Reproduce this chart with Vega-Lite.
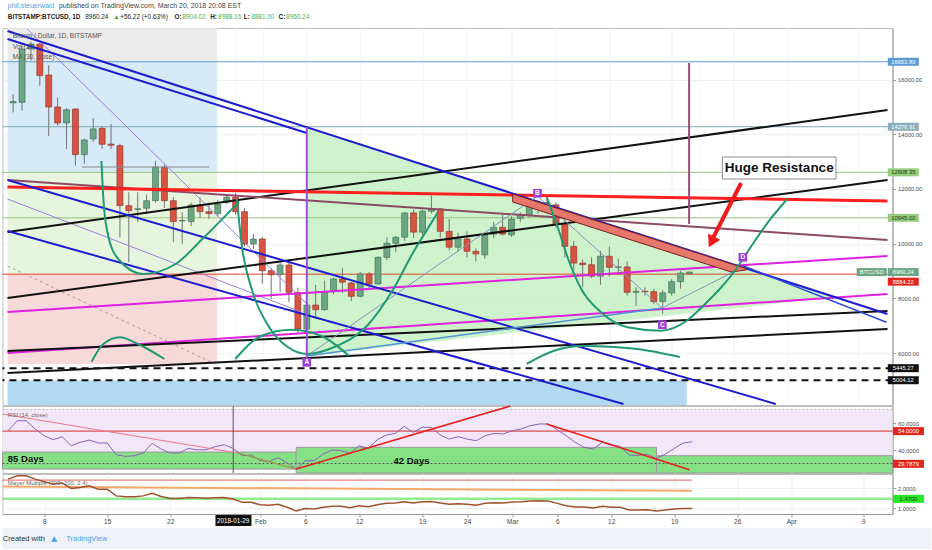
{
  "$schema": "https://vega.github.io/schema/vega-lite/v6.json",
  "padding": {"left": -2.5, "top": -2, "right": 0, "bottom": 0},
  "background": "white",
  "spacing": 1,
  "bounds": "flush",
  "resolve": {"scale": {"x": "independent", "y": "independent", "color": "independent"}},
  "datasets": {
    "daily": [
      {"d": "2018-01-04", "o": 15150, "h": 15475, "l": 14800, "c": 15200, "rsi": 54.3, "mm": 2.47},
      {"d": "2018-01-05", "o": 15170, "h": 17250, "l": 14860, "c": 17120, "rsi": 61.7, "mm": 2.64},
      {"d": "2018-01-06", "o": 17120, "h": 17400, "l": 16700, "c": 17300, "rsi": 61.7, "mm": 2.64},
      {"d": "2018-01-07", "o": 17300, "h": 17350, "l": 15780, "c": 16150, "rsi": 55.6, "mm": 2.47},
      {"d": "2018-01-08", "o": 16170, "h": 16530, "l": 13940, "c": 15000, "rsi": 50.6, "mm": 2.34},
      {"d": "2018-01-09", "o": 15000, "h": 15350, "l": 14317, "c": 14414, "rsi": 47.6, "mm": 2.22},
      {"d": "2018-01-10", "o": 14414, "h": 14950, "l": 13460, "c": 14900, "rsi": 49.9, "mm": 2.27},
      {"d": "2018-01-11", "o": 14926, "h": 14950, "l": 12854, "c": 13255, "rsi": 43.2, "mm": 2.0},
      {"d": "2018-01-12", "o": 13255, "h": 13850, "l": 12920, "c": 13792, "rsi": 45.7, "mm": 2.05},
      {"d": "2018-01-13", "o": 13830, "h": 14586, "l": 13730, "c": 14200, "rsi": 47.4, "mm": 2.13},
      {"d": "2018-01-14", "o": 14220, "h": 14300, "l": 13460, "c": 13635, "rsi": 45.2, "mm": 1.96},
      {"d": "2018-01-15", "o": 13640, "h": 14377, "l": 13460, "c": 13600, "rsi": 45.2, "mm": 1.96},
      {"d": "2018-01-16", "o": 13584, "h": 13650, "l": 10230, "c": 11390, "rsi": 36.5, "mm": 1.62},
      {"d": "2018-01-17", "o": 11390, "h": 11880, "l": 9320, "c": 11206, "rsi": 35.3, "mm": 1.57},
      {"d": "2018-01-18", "o": 11250, "h": 11880, "l": 10790, "c": 11280, "rsi": 35.8, "mm": 1.57},
      {"d": "2018-01-19", "o": 11294, "h": 11800, "l": 11080, "c": 11573, "rsi": 37.8, "mm": 1.62},
      {"d": "2018-01-20", "o": 11573, "h": 13036, "l": 11500, "c": 12794, "rsi": 45.0, "mm": 1.75},
      {"d": "2018-01-21", "o": 12794, "h": 12900, "l": 11300, "c": 11573, "rsi": 40.7, "mm": 1.59},
      {"d": "2018-01-22", "o": 11573, "h": 11700, "l": 10050, "c": 10805, "rsi": 37.8, "mm": 1.49},
      {"d": "2018-01-23", "o": 10830, "h": 11150, "l": 9990, "c": 10850, "rsi": 37.8, "mm": 1.49},
      {"d": "2018-01-24", "o": 10805, "h": 11500, "l": 10650, "c": 11415, "rsi": 41.2, "mm": 1.54},
      {"d": "2018-01-25", "o": 11415, "h": 11700, "l": 10950, "c": 11170, "rsi": 40.2, "mm": 1.52},
      {"d": "2018-01-26", "o": 11170, "h": 11500, "l": 10900, "c": 11100, "rsi": 40.2, "mm": 1.5},
      {"d": "2018-01-27", "o": 11100, "h": 11600, "l": 11000, "c": 11450, "rsi": 42.5, "mm": 1.52},
      {"d": "2018-01-28", "o": 11510, "h": 11800, "l": 11450, "c": 11700, "rsi": 43.9, "mm": 1.54},
      {"d": "2018-01-29", "o": 11700, "h": 11860, "l": 11050, "c": 11170, "rsi": 41.2, "mm": 1.46},
      {"d": "2018-01-30", "o": 11170, "h": 11300, "l": 9900, "c": 9988, "rsi": 35.8, "mm": 1.29},
      {"d": "2018-01-31", "o": 9988, "h": 10350, "l": 9805, "c": 10170, "rsi": 36.3, "mm": 1.29},
      {"d": "2018-02-01", "o": 10170, "h": 10250, "l": 8540, "c": 9010, "rsi": 32.1, "mm": 1.17},
      {"d": "2018-02-02", "o": 9010, "h": 9100, "l": 7980, "c": 8865, "rsi": 31.6, "mm": 1.15},
      {"d": "2018-02-03", "o": 8865, "h": 9380, "l": 8220, "c": 9220, "rsi": 34.3, "mm": 1.19},
      {"d": "2018-02-04", "o": 9220, "h": 9400, "l": 7855, "c": 8220, "rsi": 30.4, "mm": 1.04},
      {"d": "2018-02-05", "o": 8220, "h": 8390, "l": 6695, "c": 6875, "rsi": 25.9, "mm": 0.86},
      {"d": "2018-02-06", "o": 6875, "h": 7850, "l": 5970, "c": 7755, "rsi": 32.1, "mm": 0.98},
      {"d": "2018-02-07", "o": 7755, "h": 8490, "l": 7240, "c": 7585, "rsi": 32.1, "mm": 0.95},
      {"d": "2018-02-08", "o": 7585, "h": 8645, "l": 7550, "c": 8245, "rsi": 37.0, "mm": 1.04},
      {"d": "2018-02-09", "o": 8280, "h": 8760, "l": 8150, "c": 8710, "rsi": 40.0, "mm": 1.09},
      {"d": "2018-02-10", "o": 8710, "h": 9100, "l": 8200, "c": 8590, "rsi": 39.5, "mm": 1.09},
      {"d": "2018-02-11", "o": 8560, "h": 8600, "l": 7900, "c": 8075, "rsi": 37.8, "mm": 1.02},
      {"d": "2018-02-12", "o": 8075, "h": 8960, "l": 8030, "c": 8890, "rsi": 43.2, "mm": 1.12},
      {"d": "2018-02-13", "o": 8890, "h": 8960, "l": 8360, "c": 8525, "rsi": 41.2, "mm": 1.07},
      {"d": "2018-02-14", "o": 8525, "h": 9530, "l": 8500, "c": 9500, "rsi": 47.6, "mm": 1.17},
      {"d": "2018-02-15", "o": 9500, "h": 10233, "l": 9400, "c": 10015, "rsi": 51.1, "mm": 1.24},
      {"d": "2018-02-16", "o": 10015, "h": 10280, "l": 9700, "c": 10235, "rsi": 52.3, "mm": 1.26},
      {"d": "2018-02-17", "o": 10235, "h": 11150, "l": 10100, "c": 11125, "rsi": 57.5, "mm": 1.32},
      {"d": "2018-02-18", "o": 11125, "h": 11250, "l": 10200, "c": 10420, "rsi": 53.1, "mm": 1.26},
      {"d": "2018-02-19", "o": 10420, "h": 11250, "l": 10300, "c": 11185, "rsi": 56.8, "mm": 1.32},
      {"d": "2018-02-20", "o": 11185, "h": 11760, "l": 11100, "c": 11270, "rsi": 56.8, "mm": 1.34},
      {"d": "2018-02-21", "o": 11270, "h": 11300, "l": 10230, "c": 10450, "rsi": 51.1, "mm": 1.26},
      {"d": "2018-02-22", "o": 10450, "h": 10900, "l": 9760, "c": 9870, "rsi": 48.1, "mm": 1.19},
      {"d": "2018-02-23", "o": 9870, "h": 10400, "l": 9700, "c": 10170, "rsi": 49.9, "mm": 1.22},
      {"d": "2018-02-24", "o": 10170, "h": 10450, "l": 9500, "c": 9720, "rsi": 48.1, "mm": 1.19},
      {"d": "2018-02-25", "o": 9720, "h": 9830, "l": 9350, "c": 9625, "rsi": 46.9, "mm": 1.15},
      {"d": "2018-02-26", "o": 9590, "h": 10420, "l": 9450, "c": 10320, "rsi": 50.6, "mm": 1.24},
      {"d": "2018-02-27", "o": 10350, "h": 10800, "l": 10200, "c": 10600, "rsi": 52.3, "mm": 1.27},
      {"d": "2018-02-28", "o": 10600, "h": 11050, "l": 10300, "c": 10350, "rsi": 51.9, "mm": 1.26},
      {"d": "2018-03-01", "o": 10320, "h": 11000, "l": 10250, "c": 10900, "rsi": 54.3, "mm": 1.31},
      {"d": "2018-03-02", "o": 10925, "h": 11150, "l": 10800, "c": 11050, "rsi": 55.6, "mm": 1.32},
      {"d": "2018-03-03", "o": 11050, "h": 11550, "l": 10950, "c": 11450, "rsi": 58.0, "mm": 1.36},
      {"d": "2018-03-04", "o": 11450, "h": 11550, "l": 11100, "c": 11500, "rsi": 59.3, "mm": 1.37},
      {"d": "2018-03-05", "o": 11500, "h": 11700, "l": 11300, "c": 11420, "rsi": 59.3, "mm": 1.36},
      {"d": "2018-03-06", "o": 11420, "h": 11500, "l": 10600, "c": 10720, "rsi": 55.0, "mm": 1.24},
      {"d": "2018-03-07", "o": 10720, "h": 10900, "l": 9500, "c": 9900, "rsi": 50.6, "mm": 1.12},
      {"d": "2018-03-08", "o": 9900, "h": 10100, "l": 9050, "c": 9290, "rsi": 45.7, "mm": 1.05},
      {"d": "2018-03-09", "o": 9290, "h": 9420, "l": 8400, "c": 9230, "rsi": 42.0, "mm": 1.05},
      {"d": "2018-03-10", "o": 9230, "h": 9500, "l": 8750, "c": 8810, "rsi": 40.7, "mm": 1.0},
      {"d": "2018-03-11", "o": 8810, "h": 9740, "l": 8490, "c": 9540, "rsi": 45.7, "mm": 1.09},
      {"d": "2018-03-12", "o": 9540, "h": 9900, "l": 8800, "c": 9135, "rsi": 43.7, "mm": 1.04},
      {"d": "2018-03-13", "o": 9135, "h": 9450, "l": 8850, "c": 9150, "rsi": 42.7, "mm": 1.04},
      {"d": "2018-03-14", "o": 9150, "h": 9350, "l": 8100, "c": 8220, "rsi": 36.3, "mm": 0.9},
      {"d": "2018-03-15", "o": 8220, "h": 8400, "l": 7730, "c": 8260, "rsi": 35.9, "mm": 0.9},
      {"d": "2018-03-16", "o": 8260, "h": 8400, "l": 8100, "c": 8240, "rsi": 37.0, "mm": 0.92},
      {"d": "2018-03-17", "o": 8245, "h": 8350, "l": 7800, "c": 7880, "rsi": 33.8, "mm": 0.85},
      {"d": "2018-03-18", "o": 7880, "h": 8300, "l": 7430, "c": 8200, "rsi": 37.0, "mm": 0.9},
      {"d": "2018-03-19", "o": 8200, "h": 8700, "l": 8100, "c": 8610, "rsi": 41.2, "mm": 0.95},
      {"d": "2018-03-20", "o": 8610, "h": 9010, "l": 8350, "c": 8927, "rsi": 45.2, "mm": 0.98},
      {"d": "2018-03-21", "o": 8904, "h": 8988, "l": 8881, "c": 8960, "rsi": 46.1, "mm": 0.98}
    ],
    "zones": [
      {"top": 17889, "bot": 16654, "zone": "grey"},
      {"top": 16654, "bot": 12608, "zone": "blue"},
      {"top": 12608, "bot": 8884, "zone": "green"},
      {"top": 8884, "bot": 5598, "zone": "pink"}
    ],
    "tags": [
      {"p": 16653.89, "t": "16653.89", "kind": "blue"},
      {"p": 14276.91, "t": "14276.91", "kind": "teal"},
      {"p": 12608.35, "t": "12608.35", "kind": "green"},
      {"p": 10945.00, "t": "10945.00", "kind": "green"},
      {"p": 8960.24, "t": "8960.24", "kind": "last"},
      {"p": 8884.22, "t": "8884.22", "kind": "red"},
      {"p": 5445.27, "t": "5445.27", "kind": "black"},
      {"p": 5004.12, "t": "5004.12", "kind": "black"}
    ],
    "lines": [
      {"id": "blue1", "d": "2018-01-03T08:48:00Z", "p": 17779}, {"id": "blue1", "d": "2018-04-12T06:09:00Z", "p": 7427},
      {"id": "blue2", "d": "2018-01-03T08:48:00Z", "p": 17487}, {"id": "blue2", "d": "2018-02-06T00:00:00Z", "p": 14048},
      {"id": "blueC", "d": "2018-01-03T08:48:00Z", "p": 12329}, {"id": "blueC", "d": "2018-03-30T16:48:00Z", "p": 4135},
      {"id": "blueD", "d": "2018-01-03T08:48:00Z", "p": 10463}, {"id": "blueD", "d": "2018-03-13T14:10:00Z", "p": 4135},
      {"id": "blueE", "d": "2018-03-27T00:00:00Z", "p": 9194}, {"id": "blueE", "d": "2018-04-12T03:22:00Z", "p": 7123},
      {"id": "black1", "d": "2018-01-03T08:48:00Z", "p": 10427}, {"id": "black1", "d": "2018-04-12T06:09:00Z", "p": 14889},
      {"id": "black2", "d": "2018-01-03T08:48:00Z", "p": 8012}, {"id": "black2", "d": "2018-04-12T06:09:00Z", "p": 12329},
      {"id": "black3", "d": "2018-01-03T08:48:00Z", "p": 6073}, {"id": "black3", "d": "2018-04-12T06:09:00Z", "p": 7537},
      {"id": "black4", "d": "2018-01-03T08:48:00Z", "p": 5269}, {"id": "black4", "d": "2018-04-12T06:09:00Z", "p": 6878},
      {"id": "red1", "d": "2018-01-03T08:48:00Z", "p": 12073}, {"id": "red1", "d": "2018-04-12T06:09:00Z", "p": 11561},
      {"id": "maroon", "d": "2018-01-03T08:48:00Z", "p": 12329}, {"id": "maroon", "d": "2018-04-12T06:09:00Z", "p": 10134},
      {"id": "mag1", "d": "2018-01-03T08:48:00Z", "p": 7500}, {"id": "mag1", "d": "2018-04-12T06:09:00Z", "p": 9549},
      {"id": "mag2", "d": "2018-01-03T08:48:00Z", "p": 6001}, {"id": "mag2", "d": "2018-04-12T06:09:00Z", "p": 8159},
      {"id": "purp1", "d": "2018-01-05T14:10:00Z", "p": 17852}, {"id": "purp1", "d": "2018-02-06T11:31:00Z", "p": 7646},
      {"id": "purp2", "d": "2018-01-03T08:48:00Z", "p": 11634}, {"id": "purp2", "d": "2018-02-05T08:53:00Z", "p": 7500},
      {"id": "gdash", "d": "2018-01-03T08:48:00Z", "p": 9183}, {"id": "gdash", "d": "2018-01-26T16:48:00Z", "p": 5598},
      {"id": "gshort", "d": "2018-01-11T16:48:00Z", "p": 12804}, {"id": "gshort", "d": "2018-01-26T00:43:00Z", "p": 12804},
      {"id": "abcd", "d": "2018-02-06T00:00:00Z", "p": 5891}, {"id": "abcd", "d": "2018-03-03T22:05:00Z", "p": 11743},
      {"id": "abcd", "d": "2018-03-17T22:05:00Z", "p": 7646}, {"id": "abcd", "d": "2018-03-26T19:26:00Z", "p": 9110},
      {"id": "ac", "d": "2018-02-06T00:00:00Z", "p": 5891}, {"id": "ac", "d": "2018-03-17T22:05:00Z", "p": 7646},
      {"id": "vA", "d": "2018-02-06T00:00:00Z", "p": 14268}, {"id": "vA", "d": "2018-02-06T00:00:00Z", "p": 5781},
      {"id": "vM", "d": "2018-03-20T23:02:00Z", "p": 16609}, {"id": "vM", "d": "2018-03-20T23:02:00Z", "p": 10720},
      {"id": "arrow", "d": "2018-03-23T16:48:00Z", "p": 10244}, {"id": "arrow", "d": "2018-03-26T19:26:00Z", "p": 12219}
    ],
    "band": [
      {"d": "2018-03-01T03:22:00Z", "top": 11817, "bot": 11524},
      {"d": "2018-03-25T16:48:00Z", "top": 9262, "bot": 8963},
      {"d": "2018-03-27T08:53:00Z", "top": 9091, "bot": 9037}
    ],
    "arcs": [
      {"id": "a1", "d": "2018-01-13T22:05:00Z", "p": 13024}, {"id": "a1", "d": "2018-01-14T03:22:00Z", "p": 11634},
      {"id": "a1", "d": "2018-01-14T14:10:00Z", "p": 10427}, {"id": "a1", "d": "2018-01-15T19:26:00Z", "p": 9439},
      {"id": "a1", "d": "2018-01-18T14:10:00Z", "p": 8890}, {"id": "a1", "d": "2018-01-22T06:14:00Z", "p": 9256},
      {"id": "a1", "d": "2018-01-25T06:14:00Z", "p": 10171}, {"id": "a1", "d": "2018-01-29T08:53:00Z", "p": 11524},
      {"id": "a2", "d": "2018-01-29T03:22:00Z", "p": 11634}, {"id": "a2", "d": "2018-01-29T16:48:00Z", "p": 9925},
      {"id": "a2", "d": "2018-01-30T19:26:00Z", "p": 8341}, {"id": "a2", "d": "2018-02-01T16:05:00Z", "p": 6999},
      {"id": "a2", "d": "2018-02-03T21:22:00Z", "p": 6209}, {"id": "a2", "d": "2018-02-06T00:43:00Z", "p": 5964},
      {"id": "a2", "d": "2018-02-09T00:43:00Z", "p": 6209}, {"id": "a2", "d": "2018-02-12T18:43:00Z", "p": 6999},
      {"id": "a2", "d": "2018-02-15T17:31:00Z", "p": 8341}, {"id": "a2", "d": "2018-02-17T23:02:00Z", "p": 9684},
      {"id": "a2", "d": "2018-02-19T10:34:00Z", "p": 10474}, {"id": "a2", "d": "2018-02-20T17:31:00Z", "p": 11147},
      {"id": "a3", "d": "2018-03-04T23:02:00Z", "p": 11696}, {"id": "a3", "d": "2018-03-06T06:14:00Z", "p": 10537},
      {"id": "a3", "d": "2018-03-07T08:53:00Z", "p": 9439}, {"id": "a3", "d": "2018-03-08T20:10:00Z", "p": 8341},
      {"id": "a3", "d": "2018-03-11T01:41:00Z", "p": 7489}, {"id": "a3", "d": "2018-03-14T00:43:00Z", "p": 6940},
      {"id": "a3", "d": "2018-03-17T17:31:00Z", "p": 6816}, {"id": "a3", "d": "2018-03-20T16:48:00Z", "p": 7182},
      {"id": "a3", "d": "2018-03-22T13:26:00Z", "p": 7731}, {"id": "a3", "d": "2018-03-24T09:36:00Z", "p": 8341},
      {"id": "a3", "d": "2018-03-26T06:14:00Z", "p": 9073}, {"id": "a3", "d": "2018-03-28T02:38:00Z", "p": 9988},
      {"id": "a3", "d": "2018-03-29T23:02:00Z", "p": 10840}, {"id": "a3", "d": "2018-04-01T00:00:00Z", "p": 11634},
      {"id": "a4", "d": "2018-01-12T19:26:00Z", "p": 5682}, {"id": "a4", "d": "2018-01-14T03:22:00Z", "p": 6330},
      {"id": "a4", "d": "2018-01-16T00:00:00Z", "p": 6575}, {"id": "a4", "d": "2018-01-18T00:43:00Z", "p": 6330},
      {"id": "a4", "d": "2018-01-21T00:00:00Z", "p": 5781},
      {"id": "a5", "d": "2018-01-28T23:02:00Z", "p": 5781}, {"id": "a5", "d": "2018-01-31T22:05:00Z", "p": 6633},
      {"id": "a5", "d": "2018-02-04T06:14:00Z", "p": 6853}, {"id": "a5", "d": "2018-02-07T14:10:00Z", "p": 6633},
      {"id": "a5", "d": "2018-02-10T17:31:00Z", "p": 5902},
      {"id": "a6", "d": "2018-03-02T16:48:00Z", "p": 5598}, {"id": "a6", "d": "2018-03-05T16:48:00Z", "p": 6073},
      {"id": "a6", "d": "2018-03-09T00:43:00Z", "p": 6256}, {"id": "a6", "d": "2018-03-12T08:53:00Z", "p": 6220},
      {"id": "a6", "d": "2018-03-15T03:22:00Z", "p": 6147}, {"id": "a6", "d": "2018-03-19T22:05:00Z", "p": 5854}
    ],
    "pts": [
      {"lab": "A", "d": "2018-02-06T00:00:00Z", "p": 5660},
      {"lab": "B", "d": "2018-03-03T22:05:00Z", "p": 11842},
      {"lab": "C", "d": "2018-03-17T23:02:00Z", "p": 7036},
      {"lab": "D", "d": "2018-03-27T00:00:00Z", "p": 9501}
    ],
    "rsib": [
      {"d0": "2018-01-03T08:48:00Z", "d1": "2018-02-05T00:00:00Z", "top": 38.5, "bot": 25.9},
      {"d0": "2018-02-05T00:00:00Z", "d1": "2018-03-17T00:43:00Z", "top": 42.0, "bot": 23.0},
      {"d0": "2018-03-17T00:43:00Z", "d1": "2018-04-12T06:09:00Z", "top": 35.8, "bot": 23.0}
    ],
    "rsil": [
      {"id": "pink", "d": "2018-01-03T08:48:00Z", "v": 66.7}, {"id": "pink", "d": "2018-01-29T11:31:00Z", "v": 37.8},
      {"id": "olive", "d": "2018-01-29T11:31:00Z", "v": 37.8}, {"id": "olive", "d": "2018-02-05T00:00:00Z", "v": 25.9},
      {"id": "up", "d": "2018-02-05T00:00:00Z", "v": 25.9}, {"id": "up", "d": "2018-02-28T19:26:00Z", "v": 72.6},
      {"id": "down", "d": "2018-03-04T19:26:00Z", "v": 59.3}, {"id": "down", "d": "2018-03-20T16:48:00Z", "v": 25.4}
    ],
    "mml": [
      {"id": "red", "d": "2018-01-03T08:48:00Z", "v": 2.42}, {"id": "red", "d": "2018-03-20T23:02:00Z", "v": 2.42},
      {"id": "orange", "d": "2018-01-03T08:48:00Z", "v": 2.09}, {"id": "orange", "d": "2018-03-20T23:02:00Z", "v": 1.88}
    ]
  },
  "vconcat": [
    {
      "width": 890,
      "height": 377,
      "resolve": {"scale": {"color": "independent"}},
      "layer": [
        {
          "data": {"values": [{}]},
          "mark": {"type": "rect", "fill": "#ffffff"},
          "encoding": {
            "x": {"datum": {"year": 2018, "month": 1, "date": 3, "hours": 8, "minutes": 48, "utc": true}, "type": "temporal",
              "scale": {"type": "utc", "nice": false, "domain": [{"year": 2018, "month": 1, "date": 3, "hours": 8, "minutes": 48, "utc": true}, {"year": 2018, "month": 4, "date": 12, "hours": 6, "minutes": 9, "utc": true}]},
              "axis": {"title": null, "labels": false, "ticks": false, "domain": false, "grid": true,
                "values": [{"year": 2018, "month": 1, "date": 8, "utc": true}, {"year": 2018, "month": 1, "date": 15, "utc": true}, {"year": 2018, "month": 1, "date": 22, "utc": true}, {"year": 2018, "month": 1, "date": 29, "utc": true}, {"year": 2018, "month": 2, "date": 1, "utc": true}, {"year": 2018, "month": 2, "date": 6, "utc": true}, {"year": 2018, "month": 2, "date": 12, "utc": true}, {"year": 2018, "month": 2, "date": 19, "utc": true}, {"year": 2018, "month": 2, "date": 24, "utc": true}, {"year": 2018, "month": 3, "date": 1, "utc": true}, {"year": 2018, "month": 3, "date": 6, "utc": true}, {"year": 2018, "month": 3, "date": 12, "utc": true}, {"year": 2018, "month": 3, "date": 19, "utc": true}, {"year": 2018, "month": 3, "date": 26, "utc": true}, {"year": 2018, "month": 4, "date": 1, "utc": true}, {"year": 2018, "month": 4, "date": 9, "utc": true}]}},
            "x2": {"datum": {"year": 2018, "month": 4, "date": 12, "hours": 6, "minutes": 9, "utc": true}},
            "y": {"datum": 18950, "type": "quantitative",
              "scale": {"domain": [4098, 17889], "nice": false, "zero": false},
              "axis": {"title": null, "orient": "right", "format": ".2f", "grid": true, "values": [6000, 7000, 8000, 9000, 10000, 11000, 12000, 13000, 14000, 15000, 16000, 17000]}},
            "y2": {"datum": 17889}
          }
        },
        {
          "data": {"name": "zones"},
          "mark": {"type": "rect", "opacity": 0.85},
          "encoding": {
            "x": {"datum": {"year": 2018, "month": 1, "date": 3, "hours": 8, "minutes": 48, "utc": true}, "type": "temporal"},
            "x2": {"datum": {"year": 2018, "month": 1, "date": 26, "hours": 22, "minutes": 5, "utc": true}},
            "y": {"field": "top", "type": "quantitative"},
            "y2": {"field": "bot"},
            "color": {"field": "zone", "type": "nominal", "legend": null,
              "scale": {"domain": ["grey", "blue", "green", "pink"], "range": ["#e6e6e6", "#cfe6f6", "#e4f3d8", "#f6d2d2"]}}
          }
        },
        {
          "data": {"values": [{"d": "2018-02-06T00:00:00Z", "top": 14257, "bot": 5891}, {"d": "2018-04-06T08:53:00Z", "top": 8049, "bot": 8049}]},
          "mark": {"type": "area", "color": "#c2f0bf", "opacity": 0.8},
          "encoding": {"x": {"field": "d", "type": "temporal"}, "y": {"field": "top", "type": "quantitative"}, "y2": {"field": "bot"}}
        },
        {
          "data": {"values": [{}]},
          "mark": {"type": "rect", "fill": "#a9d5f1", "opacity": 0.9},
          "encoding": {
            "x": {"datum": {"year": 2018, "month": 1, "date": 3, "hours": 8, "minutes": 48, "utc": true}, "type": "temporal"},
            "x2": {"datum": {"year": 2018, "month": 3, "date": 20, "hours": 16, "minutes": 48, "utc": true}},
            "y": {"datum": 4990, "type": "quantitative"},
            "y2": {"datum": 4098}
          }
        },
        {
          "data": {"name": "tags"},
          "transform": [{"filter": "datum.kind != 'last' && datum.kind != 'black'"}],
          "mark": {"type": "rule", "strokeWidth": 1},
          "encoding": {
            "y": {"field": "p", "type": "quantitative"},
            "color": {"field": "kind", "type": "nominal", "legend": null,
              "scale": {"domain": ["blue", "teal", "green", "red"], "range": ["#5b9bd5", "#7fa8b6", "#93c47d", "#e0442a"]}}
          }
        },
        {
          "data": {"name": "tags"},
          "transform": [{"filter": "datum.kind == 'black'"}],
          "mark": {"type": "rule", "strokeWidth": 2, "color": "#111111", "strokeDash": [7, 5]},
          "encoding": {"y": {"field": "p", "type": "quantitative"}}
        },
        {
          "data": {"name": "daily"},
          "mark": {"type": "rule", "color": "#737375", "strokeWidth": 1},
          "encoding": {"x": {"field": "d", "type": "temporal"}, "y": {"field": "l", "type": "quantitative"}, "y2": {"field": "h"}}
        },
        {
          "data": {"name": "daily"},
          "mark": {"type": "bar", "size": 6, "strokeWidth": 0.6},
          "encoding": {
            "x": {"field": "d", "type": "temporal"},
            "y": {"field": "o", "type": "quantitative"},
            "y2": {"field": "c"},
            "fill": {"condition": {"test": "datum.c >= datum.o", "value": "#6ba583"}, "value": "#d75442"},
            "stroke": {"condition": {"test": "datum.c >= datum.o", "value": "#3d6b50"}, "value": "#8e2a1e"}
          }
        },
        {
          "data": {"name": "lines"},
          "transform": [{"filter": {"field": "id", "oneOf": ["gdash"]}}],
          "mark": {"type": "line", "color": "#b39a9a", "strokeWidth": 1, "strokeDash": [3, 3]},
          "encoding": {"x": {"field": "d", "type": "temporal"}, "y": {"field": "p", "type": "quantitative"}, "detail": {"field": "id"}}
        },
        {
          "data": {"name": "lines"},
          "transform": [{"filter": {"field": "id", "oneOf": ["gshort"]}}],
          "mark": {"type": "line", "color": "#8a8a8a", "strokeWidth": 1},
          "encoding": {"x": {"field": "d", "type": "temporal"}, "y": {"field": "p", "type": "quantitative"}, "detail": {"field": "id"}}
        },
        {
          "data": {"name": "lines"},
          "transform": [{"filter": {"field": "id", "oneOf": ["purp1", "purp2"]}}],
          "mark": {"type": "line", "color": "#a27be0", "strokeWidth": 1},
          "encoding": {"x": {"field": "d", "type": "temporal"}, "y": {"field": "p", "type": "quantitative"}, "detail": {"field": "id"}}
        },
        {
          "data": {"name": "lines"},
          "transform": [{"filter": {"field": "id", "oneOf": ["mag1", "mag2"]}}],
          "mark": {"type": "line", "color": "#e020e0", "strokeWidth": 2},
          "encoding": {"x": {"field": "d", "type": "temporal"}, "y": {"field": "p", "type": "quantitative"}, "detail": {"field": "id"}}
        },
        {
          "data": {"name": "lines"},
          "transform": [{"filter": {"field": "id", "oneOf": ["black1", "black2", "black3", "black4"]}}],
          "mark": {"type": "line", "color": "#111111", "strokeWidth": 2},
          "encoding": {"x": {"field": "d", "type": "temporal"}, "y": {"field": "p", "type": "quantitative"}, "detail": {"field": "id"}}
        },
        {
          "data": {"name": "lines"},
          "transform": [{"filter": {"field": "id", "oneOf": ["maroon"]}}],
          "mark": {"type": "line", "color": "#8e4a63", "strokeWidth": 2},
          "encoding": {"x": {"field": "d", "type": "temporal"}, "y": {"field": "p", "type": "quantitative"}, "detail": {"field": "id"}}
        },
        {
          "data": {"name": "lines"},
          "transform": [{"filter": {"field": "id", "oneOf": ["red1"]}}],
          "mark": {"type": "line", "color": "#ff1f1f", "strokeWidth": 3},
          "encoding": {"x": {"field": "d", "type": "temporal"}, "y": {"field": "p", "type": "quantitative"}, "detail": {"field": "id"}}
        },
        {
          "data": {"name": "lines"},
          "transform": [{"filter": {"field": "id", "oneOf": ["blue1", "blue2", "blueC", "blueD"]}}],
          "mark": {"type": "line", "color": "#1c1cd0", "strokeWidth": 2},
          "encoding": {"x": {"field": "d", "type": "temporal"}, "y": {"field": "p", "type": "quantitative"}, "detail": {"field": "id"}}
        },
        {
          "data": {"name": "lines"},
          "transform": [{"filter": {"field": "id", "oneOf": ["blueE"]}}],
          "mark": {"type": "line", "color": "#2a4bd7", "strokeWidth": 1.5},
          "encoding": {"x": {"field": "d", "type": "temporal"}, "y": {"field": "p", "type": "quantitative"}, "detail": {"field": "id"}}
        },
        {
          "data": {"name": "lines"},
          "transform": [{"filter": {"field": "id", "oneOf": ["abcd"]}}],
          "mark": {"type": "line", "color": "#8494b8", "strokeWidth": 1},
          "encoding": {"x": {"field": "d", "type": "temporal"}, "y": {"field": "p", "type": "quantitative"}, "detail": {"field": "id"}}
        },
        {
          "data": {"name": "lines"},
          "transform": [{"filter": {"field": "id", "oneOf": ["ac"]}}],
          "mark": {"type": "line", "color": "#4f93d0", "strokeWidth": 1.5},
          "encoding": {"x": {"field": "d", "type": "temporal"}, "y": {"field": "p", "type": "quantitative"}, "detail": {"field": "id"}}
        },
        {
          "data": {"name": "band"},
          "mark": {"type": "area", "fill": "#e5786a", "stroke": "#7d1d1d", "strokeWidth": 1},
          "encoding": {"x": {"field": "d", "type": "temporal"}, "y": {"field": "top", "type": "quantitative"}, "y2": {"field": "bot"}}
        },
        {
          "data": {"name": "arcs"},
          "mark": {"type": "line", "color": "#1f9a72", "strokeWidth": 2, "interpolate": "monotone"},
          "encoding": {"x": {"field": "d", "type": "temporal"}, "y": {"field": "p", "type": "quantitative"}, "detail": {"field": "id"}}
        },
        {
          "data": {"name": "lines"},
          "transform": [{"filter": {"field": "id", "oneOf": ["vA"]}}],
          "mark": {"type": "line", "color": "#9b4fd8", "strokeWidth": 2},
          "encoding": {"x": {"field": "d", "type": "temporal"}, "y": {"field": "p", "type": "quantitative"}, "detail": {"field": "id"}}
        },
        {
          "data": {"name": "lines"},
          "transform": [{"filter": {"field": "id", "oneOf": ["vM"]}}],
          "mark": {"type": "line", "color": "#9d4a78", "strokeWidth": 2},
          "encoding": {"x": {"field": "d", "type": "temporal"}, "y": {"field": "p", "type": "quantitative"}, "detail": {"field": "id"}}
        },
        {
          "data": {"name": "pts"},
          "mark": {"type": "point", "shape": "square", "size": 75, "filled": true, "color": "#9b3fd8", "opacity": 1},
          "encoding": {"x": {"field": "d", "type": "temporal"}, "y": {"field": "p", "type": "quantitative"}}
        },
        {
          "data": {"name": "pts"},
          "mark": {"type": "text", "color": "#ffffff", "fontSize": 6.5, "fontWeight": "bold", "baseline": "middle"},
          "encoding": {"x": {"field": "d", "type": "temporal"}, "y": {"field": "p", "type": "quantitative"}, "text": {"field": "lab"}}
        },
        {
          "data": {"values": [{}]},
          "mark": {"type": "rect", "fill": "#ffffff", "stroke": "#8a8a8a", "strokeWidth": 1},
          "encoding": {
            "x": {"datum": {"year": 2018, "month": 3, "date": 24, "hours": 16, "minutes": 48, "utc": true}, "type": "temporal"},
            "x2": {"datum": {"year": 2018, "month": 4, "date": 6, "hours": 11, "minutes": 17, "utc": true}},
            "y": {"datum": 13170, "type": "quantitative"},
            "y2": {"datum": 12365}
          }
        },
        {
          "data": {"values": [{}]},
          "mark": {"type": "text", "fontSize": 13.5, "fontWeight": "bold", "color": "#111111", "align": "center", "baseline": "middle"},
          "encoding": {
            "x": {"datum": {"year": 2018, "month": 3, "date": 31, "hours": 2, "minutes": 10, "utc": true}, "type": "temporal"},
            "y": {"datum": 12768, "type": "quantitative"},
            "text": {"value": "Huge Resistance"}
          }
        },
        {
          "data": {"name": "lines"},
          "transform": [{"filter": {"field": "id", "oneOf": ["arrow"]}}],
          "mark": {"type": "line", "color": "#ee1b1b", "strokeWidth": 4},
          "encoding": {"x": {"field": "d", "type": "temporal"}, "y": {"field": "p", "type": "quantitative"}, "detail": {"field": "id"}}
        },
        {
          "data": {"values": [{}]},
          "mark": {"type": "point", "shape": "triangle-down", "angle": 27, "size": 190, "filled": true, "color": "#ee1b1b", "opacity": 1},
          "encoding": {
            "x": {"datum": {"year": 2018, "month": 3, "date": 23, "hours": 11, "minutes": 31, "utc": true}, "type": "temporal"},
            "y": {"datum": 10061, "type": "quantitative"}
          }
        },
        {
          "data": {"values": [{}]},
          "mark": {"type": "text", "fontSize": 6.5, "color": "#555555", "align": "left", "baseline": "top", "lineHeight": 10.5},
          "encoding": {
            "x": {"datum": {"year": 2018, "month": 1, "date": 3, "hours": 23, "minutes": 2, "utc": true}, "type": "temporal"},
            "y": {"datum": 17706, "type": "quantitative"},
            "text": {"value": ["Bitcoin / Dollar, 1D, BITSTAMP", "Vol (20)", "MA (30, close)"]}
          }
        },
        {
          "data": {"name": "tags"},
          "transform": [{"filter": "datum.kind != 'red'"}],
          "mark": {"type": "tick", "orient": "horizontal", "size": 31, "thickness": 8, "opacity": 1},
          "encoding": {
            "x": {"datum": {"year": 2018, "month": 4, "date": 14, "hours": 0, "minutes": 43, "utc": true}, "type": "temporal"},
            "y": {"field": "p", "type": "quantitative"},
            "color": {"field": "kind", "type": "nominal", "legend": null,
              "scale": {"domain": ["blue", "teal", "green", "last", "black"], "range": ["#5b9bd5", "#8aaebb", "#93cc7e", "#6ba583", "#111111"]}}
          }
        },
        {
          "data": {"name": "tags"},
          "transform": [{"filter": "datum.kind != 'red'"}],
          "mark": {"type": "text", "fontSize": 5.8, "align": "center", "baseline": "middle"},
          "encoding": {
            "x": {"datum": {"year": 2018, "month": 4, "date": 14, "hours": 0, "minutes": 43, "utc": true}, "type": "temporal"},
            "y": {"field": "p", "type": "quantitative"},
            "text": {"field": "t"},
            "color": {"condition": {"test": "datum.kind == 'green'", "value": "#1d3b12"}, "value": "#ffffff"}
          }
        },
        {
          "data": {"name": "tags"},
          "transform": [{"filter": "datum.kind == 'red'"}],
          "mark": {"type": "tick", "orient": "horizontal", "size": 31, "thickness": 8, "opacity": 1, "color": "#e3261c", "yOffset": 7.5},
          "encoding": {
            "x": {"datum": {"year": 2018, "month": 4, "date": 14, "hours": 0, "minutes": 43, "utc": true}, "type": "temporal"},
            "y": {"field": "p", "type": "quantitative"}
          }
        },
        {
          "data": {"name": "tags"},
          "transform": [{"filter": "datum.kind == 'red'"}],
          "mark": {"type": "text", "fontSize": 5.8, "align": "center", "baseline": "middle", "color": "#ffffff", "yOffset": 7.5},
          "encoding": {
            "x": {"datum": {"year": 2018, "month": 4, "date": 14, "hours": 0, "minutes": 43, "utc": true}, "type": "temporal"},
            "y": {"field": "p", "type": "quantitative"},
            "text": {"field": "t"}
          }
        },
        {
          "data": {"values": [{}]},
          "mark": {"type": "tick", "orient": "horizontal", "size": 30, "thickness": 8, "opacity": 1, "color": "#6ba583"},
          "encoding": {
            "x": {"datum": {"year": 2018, "month": 4, "date": 10, "hours": 11, "minutes": 31, "utc": true}, "type": "temporal"},
            "y": {"datum": 8960.24, "type": "quantitative"}
          }
        },
        {
          "data": {"values": [{}]},
          "mark": {"type": "text", "fontSize": 5.8, "align": "center", "baseline": "middle", "color": "#ffffff"},
          "encoding": {
            "x": {"datum": {"year": 2018, "month": 4, "date": 10, "hours": 11, "minutes": 31, "utc": true}, "type": "temporal"},
            "y": {"datum": 8960.24, "type": "quantitative"},
            "text": {"value": "BTCUSD"}
          }
        },
        {
          "data": {"values": [{}]},
          "mark": {"type": "text", "fontSize": 7, "align": "left", "baseline": "middle", "color": "#4da3e6"},
          "encoding": {"x": {"datum": {"year": 2018, "month": 1, "date": 3, "hours": 9, "minutes": 36, "utc": true}, "type": "temporal"}, "y": {"datum": 18705, "type": "quantitative"}, "text": {"value": "phil.steuerwald"}}
        },
        {
          "data": {"values": [{}]},
          "mark": {"type": "text", "fontSize": 7, "align": "left", "baseline": "middle", "color": "#444444"},
          "encoding": {"x": {"datum": {"year": 2018, "month": 1, "date": 9, "hours": 3, "minutes": 28, "utc": true}, "type": "temporal"}, "y": {"datum": 18705, "type": "quantitative"}, "text": {"value": "published on TradingView.com, March 20, 2018 20:08 EST"}}
        },
        {
          "data": {"values": [{}]},
          "mark": {"type": "text", "fontSize": 6.4, "fontWeight": "bold", "align": "left", "baseline": "middle", "color": "#222222"},
          "encoding": {"x": {"datum": {"year": 2018, "month": 1, "date": 3, "hours": 9, "minutes": 36, "utc": true}, "type": "temporal"}, "y": {"datum": 18280, "type": "quantitative"}, "text": {"value": "BITSTAMP:BTCUSD, 1D"}}
        },
        {
          "data": {"values": [{}]},
          "mark": {"type": "text", "fontSize": 6.4, "align": "left", "baseline": "middle", "color": "#222222"},
          "encoding": {"x": {"datum": {"year": 2018, "month": 1, "date": 12, "hours": 2, "minutes": 40, "utc": true}, "type": "temporal"}, "y": {"datum": 18280, "type": "quantitative"}, "text": {"value": "8960.24"}}
        },
        {
          "data": {"values": [{}]},
          "mark": {"type": "text", "fontSize": 6.4, "align": "left", "baseline": "middle", "color": "#3aa33a"},
          "encoding": {"x": {"datum": {"year": 2018, "month": 1, "date": 15, "hours": 6, "minutes": 8, "utc": true}, "type": "temporal"}, "y": {"datum": 18280, "type": "quantitative"}, "text": {"value": "▲"}}
        },
        {
          "data": {"values": [{}]},
          "mark": {"type": "text", "fontSize": 6.4, "align": "left", "baseline": "middle", "color": "#222222"},
          "encoding": {"x": {"datum": {"year": 2018, "month": 1, "date": 16, "hours": 0, "minutes": 48, "utc": true}, "type": "temporal"}, "y": {"datum": 18280, "type": "quantitative"}, "text": {"value": "+56.22 (+0.63%)"}}
        },
        {
          "data": {"values": [{}]},
          "mark": {"type": "text", "fontSize": 6.4, "fontWeight": "bold", "align": "left", "baseline": "middle", "color": "#222222"},
          "encoding": {"x": {"datum": {"year": 2018, "month": 1, "date": 22, "hours": 3, "minutes": 28, "utc": true}, "type": "temporal"}, "y": {"datum": 18280, "type": "quantitative"}, "text": {"value": "O:"}}
        },
        {
          "data": {"values": [{}]},
          "mark": {"type": "text", "fontSize": 6.4, "align": "left", "baseline": "middle", "color": "#4caf50"},
          "encoding": {"x": {"datum": {"year": 2018, "month": 1, "date": 23, "hours": 0, "minutes": 48, "utc": true}, "type": "temporal"}, "y": {"datum": 18280, "type": "quantitative"}, "text": {"value": "8904.02"}}
        },
        {
          "data": {"values": [{}]},
          "mark": {"type": "text", "fontSize": 6.4, "fontWeight": "bold", "align": "left", "baseline": "middle", "color": "#222222"},
          "encoding": {"x": {"datum": {"year": 2018, "month": 1, "date": 26, "hours": 3, "minutes": 28, "utc": true}, "type": "temporal"}, "y": {"datum": 18280, "type": "quantitative"}, "text": {"value": "H:"}}
        },
        {
          "data": {"values": [{}]},
          "mark": {"type": "text", "fontSize": 6.4, "align": "left", "baseline": "middle", "color": "#4caf50"},
          "encoding": {"x": {"datum": {"year": 2018, "month": 1, "date": 27, "hours": 0, "minutes": 48, "utc": true}, "type": "temporal"}, "y": {"datum": 18280, "type": "quantitative"}, "text": {"value": "8988.16"}}
        },
        {
          "data": {"values": [{}]},
          "mark": {"type": "text", "fontSize": 6.4, "fontWeight": "bold", "align": "left", "baseline": "middle", "color": "#222222"},
          "encoding": {"x": {"datum": {"year": 2018, "month": 1, "date": 29, "hours": 22, "minutes": 0, "utc": true}, "type": "temporal"}, "y": {"datum": 18280, "type": "quantitative"}, "text": {"value": "L:"}}
        },
        {
          "data": {"values": [{}]},
          "mark": {"type": "text", "fontSize": 6.4, "align": "left", "baseline": "middle", "color": "#4caf50"},
          "encoding": {"x": {"datum": {"year": 2018, "month": 1, "date": 30, "hours": 18, "minutes": 8, "utc": true}, "type": "temporal"}, "y": {"datum": 18280, "type": "quantitative"}, "text": {"value": "8881.00"}}
        },
        {
          "data": {"values": [{}]},
          "mark": {"type": "text", "fontSize": 6.4, "fontWeight": "bold", "align": "left", "baseline": "middle", "color": "#222222"},
          "encoding": {"x": {"datum": {"year": 2018, "month": 2, "date": 2, "hours": 20, "minutes": 0, "utc": true}, "type": "temporal"}, "y": {"datum": 18280, "type": "quantitative"}, "text": {"value": "C:"}}
        },
        {
          "data": {"values": [{}]},
          "mark": {"type": "text", "fontSize": 6.4, "align": "left", "baseline": "middle", "color": "#4caf50"},
          "encoding": {"x": {"datum": {"year": 2018, "month": 2, "date": 3, "hours": 16, "minutes": 48, "utc": true}, "type": "temporal"}, "y": {"datum": 18280, "type": "quantitative"}, "text": {"value": "8960.24"}}
        }
      ]
    },
    {
      "width": 890,
      "height": 67,
      "layer": [
        {
          "data": {"values": [{}]},
          "mark": {"type": "rect", "fill": "#f2e6f9"},
          "encoding": {
            "x": {"datum": {"year": 2018, "month": 1, "date": 3, "hours": 8, "minutes": 48, "utc": true}, "type": "temporal",
              "scale": {"type": "utc", "nice": false, "domain": [{"year": 2018, "month": 1, "date": 3, "hours": 8, "minutes": 48, "utc": true}, {"year": 2018, "month": 4, "date": 12, "hours": 6, "minutes": 9, "utc": true}]},
              "axis": {"title": null, "labels": false, "ticks": false, "domain": false, "grid": true,
                "values": [{"year": 2018, "month": 1, "date": 8, "utc": true}, {"year": 2018, "month": 1, "date": 15, "utc": true}, {"year": 2018, "month": 1, "date": 22, "utc": true}, {"year": 2018, "month": 1, "date": 29, "utc": true}, {"year": 2018, "month": 2, "date": 1, "utc": true}, {"year": 2018, "month": 2, "date": 6, "utc": true}, {"year": 2018, "month": 2, "date": 12, "utc": true}, {"year": 2018, "month": 2, "date": 19, "utc": true}, {"year": 2018, "month": 2, "date": 24, "utc": true}, {"year": 2018, "month": 3, "date": 1, "utc": true}, {"year": 2018, "month": 3, "date": 6, "utc": true}, {"year": 2018, "month": 3, "date": 12, "utc": true}, {"year": 2018, "month": 3, "date": 19, "utc": true}, {"year": 2018, "month": 3, "date": 26, "utc": true}, {"year": 2018, "month": 4, "date": 1, "utc": true}, {"year": 2018, "month": 4, "date": 9, "utc": true}]}},
            "x2": {"datum": {"year": 2018, "month": 4, "date": 12, "hours": 6, "minutes": 9, "utc": true}},
            "y": {"datum": 70, "type": "quantitative",
              "scale": {"domain": [23.0, 72.6], "nice": false, "zero": false},
              "axis": {"title": null, "orient": "right", "format": ".4f", "grid": true, "values": [40, 60]}},
            "y2": {"datum": 30}
          }
        },
        {
          "data": {"name": "rsib"},
          "mark": {"type": "rect", "fill": "#86e086", "stroke": "#9a9a9a", "strokeWidth": 1},
          "encoding": {"x": {"field": "d0", "type": "temporal"}, "x2": {"field": "d1"}, "y": {"field": "top", "type": "quantitative"}, "y2": {"field": "bot"}}
        },
        {
          "data": {"values": [{}]},
          "mark": {"type": "rule", "color": "#bbbbbb", "strokeDash": [2, 2]},
          "encoding": {"y": {"datum": 70, "type": "quantitative"}}
        },
        {
          "data": {"values": [{}]},
          "mark": {"type": "rule", "color": "#555555", "strokeDash": [2, 2]},
          "encoding": {"y": {"datum": 30, "type": "quantitative"}}
        },
        {
          "data": {"values": [{}]},
          "mark": {"type": "rule", "color": "#d9534f", "strokeWidth": 1.2},
          "encoding": {"y": {"datum": 54, "type": "quantitative"}}
        },
        {
          "data": {"values": [{}]},
          "mark": {"type": "rule", "color": "#555555", "strokeWidth": 1},
          "encoding": {"x": {"datum": {"year": 2018, "month": 1, "date": 29, "utc": true}, "type": "temporal"}}
        },
        {
          "data": {"name": "daily"},
          "mark": {"type": "line", "color": "#8a63b8", "strokeWidth": 1},
          "encoding": {"x": {"field": "d", "type": "temporal"}, "y": {"field": "rsi", "type": "quantitative"}}
        },
        {
          "data": {"name": "rsil"},
          "transform": [{"filter": {"field": "id", "oneOf": ["pink"]}}],
          "mark": {"type": "line", "color": "#f07a8a", "strokeWidth": 1.2},
          "encoding": {"x": {"field": "d", "type": "temporal"}, "y": {"field": "v", "type": "quantitative"}}
        },
        {
          "data": {"name": "rsil"},
          "transform": [{"filter": {"field": "id", "oneOf": ["olive"]}}],
          "mark": {"type": "line", "color": "#9a9a3a", "strokeWidth": 1.2},
          "encoding": {"x": {"field": "d", "type": "temporal"}, "y": {"field": "v", "type": "quantitative"}}
        },
        {
          "data": {"name": "rsil"},
          "transform": [{"filter": {"field": "id", "oneOf": ["up", "down"]}}],
          "mark": {"type": "line", "color": "#e8201c", "strokeWidth": 1.6},
          "encoding": {"x": {"field": "d", "type": "temporal"}, "y": {"field": "v", "type": "quantitative"}, "detail": {"field": "id"}}
        },
        {
          "data": {"values": [{}]},
          "mark": {"type": "text", "fontSize": 6, "color": "#666666", "align": "left", "baseline": "middle"},
          "encoding": {"x": {"datum": {"year": 2018, "month": 1, "date": 3, "hours": 23, "minutes": 2, "utc": true}, "type": "temporal"}, "y": {"datum": 65.9, "type": "quantitative"}, "text": {"value": "RSI (14, close)"}}
        },
        {
          "data": {"values": [{}]},
          "mark": {"type": "text", "fontSize": 9.5, "fontWeight": "bold", "color": "#111111", "align": "left", "baseline": "middle"},
          "encoding": {"x": {"datum": {"year": 2018, "month": 1, "date": 3, "hours": 23, "minutes": 2, "utc": true}, "type": "temporal"}, "y": {"datum": 33.3, "type": "quantitative"}, "text": {"value": "85 Days"}}
        },
        {
          "data": {"values": [{}]},
          "mark": {"type": "text", "fontSize": 9.5, "fontWeight": "bold", "color": "#111111", "align": "center", "baseline": "middle"},
          "encoding": {"x": {"datum": {"year": 2018, "month": 2, "date": 17, "hours": 19, "minutes": 26, "utc": true}, "type": "temporal"}, "y": {"datum": 32.1, "type": "quantitative"}, "text": {"value": "42 Days"}}
        },
        {
          "data": {"values": [{"v": 54.0, "t": "54.0000"}, {"v": 29.7879, "t": "29.7879"}]},
          "mark": {"type": "tick", "orient": "horizontal", "size": 31, "thickness": 8, "opacity": 1, "color": "#e3261c"},
          "encoding": {"x": {"datum": {"year": 2018, "month": 4, "date": 14, "hours": 0, "minutes": 43, "utc": true}, "type": "temporal"}, "y": {"field": "v", "type": "quantitative"}}
        },
        {
          "data": {"values": [{"v": 54.0, "t": "54.0000"}, {"v": 29.7879, "t": "29.7879"}]},
          "mark": {"type": "text", "fontSize": 5.8, "align": "center", "baseline": "middle", "color": "#ffffff"},
          "encoding": {"x": {"datum": {"year": 2018, "month": 4, "date": 14, "hours": 0, "minutes": 43, "utc": true}, "type": "temporal"}, "y": {"field": "v", "type": "quantitative"}, "text": {"field": "t"}}
        }
      ]
    },
    {
      "width": 890,
      "height": 40,
      "layer": [
        {
          "data": {"values": [{}]},
          "mark": {"type": "rect", "fill": "#eef2f6"},
          "encoding": {
            "x": {"datum": {"year": 2018, "month": 1, "date": 3, "hours": 8, "minutes": 48, "utc": true}, "type": "temporal",
              "scale": {"type": "utc", "nice": false, "domain": [{"year": 2018, "month": 1, "date": 3, "hours": 8, "minutes": 48, "utc": true}, {"year": 2018, "month": 4, "date": 12, "hours": 6, "minutes": 9, "utc": true}]},
              "axis": {"title": null, "grid": true, "tickSize": 3, "labelFontSize": 6.5, "labelColor": "#444444", "labelPadding": 1,
                "labelExpr": "utcdate(datum.value) == 1 ? utcFormat(datum.value, '%b') : utcFormat(datum.value, '%-d')",
                "values": [{"year": 2018, "month": 1, "date": 8, "utc": true}, {"year": 2018, "month": 1, "date": 15, "utc": true}, {"year": 2018, "month": 1, "date": 22, "utc": true}, {"year": 2018, "month": 2, "date": 1, "utc": true}, {"year": 2018, "month": 2, "date": 6, "utc": true}, {"year": 2018, "month": 2, "date": 12, "utc": true}, {"year": 2018, "month": 2, "date": 19, "utc": true}, {"year": 2018, "month": 2, "date": 24, "utc": true}, {"year": 2018, "month": 3, "date": 1, "utc": true}, {"year": 2018, "month": 3, "date": 6, "utc": true}, {"year": 2018, "month": 3, "date": 12, "utc": true}, {"year": 2018, "month": 3, "date": 19, "utc": true}, {"year": 2018, "month": 3, "date": 26, "utc": true}, {"year": 2018, "month": 4, "date": 1, "utc": true}, {"year": 2018, "month": 4, "date": 9, "utc": true}]}},
            "x2": {"datum": {"year": 2018, "month": 4, "date": 16, "hours": 14, "utc": true}},
            "y": {"datum": -0.015, "type": "quantitative",
              "scale": {"domain": [0.70, 2.73], "nice": false, "zero": false},
              "axis": {"title": null, "orient": "right", "format": ".4f", "grid": true, "values": [1, 2]}},
            "y2": {"datum": -1.08}
          }
        },
        {
          "data": {"name": "mml"},
          "transform": [{"filter": {"field": "id", "oneOf": ["red"]}}],
          "mark": {"type": "line", "color": "#e06060", "strokeWidth": 1},
          "encoding": {"x": {"field": "d", "type": "temporal"}, "y": {"field": "v", "type": "quantitative"}}
        },
        {
          "data": {"name": "mml"},
          "transform": [{"filter": {"field": "id", "oneOf": ["orange"]}}],
          "mark": {"type": "line", "color": "#f5a86a", "strokeWidth": 2},
          "encoding": {"x": {"field": "d", "type": "temporal"}, "y": {"field": "v", "type": "quantitative"}}
        },
        {
          "data": {"values": [{}]},
          "mark": {"type": "rule", "color": "#90ee90", "strokeWidth": 2.5},
          "encoding": {"y": {"datum": 1.47, "type": "quantitative"}}
        },
        {
          "data": {"name": "daily"},
          "mark": {"type": "line", "color": "#a0522d", "strokeWidth": 1.5},
          "encoding": {"x": {"field": "d", "type": "temporal"}, "y": {"field": "mm", "type": "quantitative"}}
        },
        {
          "data": {"values": [{}]},
          "mark": {"type": "text", "fontSize": 6, "color": "#666666", "align": "left", "baseline": "middle"},
          "encoding": {"x": {"datum": {"year": 2018, "month": 1, "date": 3, "hours": 23, "minutes": 2, "utc": true}, "type": "temporal"}, "y": {"datum": 2.27, "type": "quantitative"}, "text": {"value": "Mayer Multiple (200, 200, 2.4)"}}
        },
        {
          "data": {"values": [{}]},
          "mark": {"type": "tick", "orient": "horizontal", "size": 31, "thickness": 8, "opacity": 1, "color": "#27e627"},
          "encoding": {"x": {"datum": {"year": 2018, "month": 4, "date": 14, "hours": 0, "minutes": 43, "utc": true}, "type": "temporal"}, "y": {"datum": 1.47, "type": "quantitative"}}
        },
        {
          "data": {"values": [{}]},
          "mark": {"type": "text", "fontSize": 5.8, "align": "center", "baseline": "middle", "color": "#1d3b12"},
          "encoding": {"x": {"datum": {"year": 2018, "month": 4, "date": 14, "hours": 0, "minutes": 43, "utc": true}, "type": "temporal"}, "y": {"datum": 1.47, "type": "quantitative"}, "text": {"value": "1.4700"}}
        },
        {
          "data": {"values": [{}]},
          "mark": {"type": "rect", "fill": "#111111"},
          "encoding": {
            "x": {"datum": {"year": 2018, "month": 1, "date": 27, "hours": 0, "minutes": 43, "utc": true}, "type": "temporal"},
            "x2": {"datum": {"year": 2018, "month": 1, "date": 31, "hours": 0, "minutes": 43, "utc": true}},
            "y": {"datum": 0.645, "type": "quantitative"},
            "y2": {"datum": 0.086}
          }
        },
        {
          "data": {"values": [{}]},
          "mark": {"type": "text", "fontSize": 6.3, "align": "center", "baseline": "middle", "color": "#ffffff"},
          "encoding": {"x": {"datum": {"year": 2018, "month": 1, "date": 29, "utc": true}, "type": "temporal"}, "y": {"datum": 0.365, "type": "quantitative"}, "text": {"value": "2018-01-29"}}
        },
        {
          "data": {"values": [{}]},
          "mark": {"type": "text", "fontSize": 7.5, "align": "left", "baseline": "middle", "color": "#333333"},
          "encoding": {"x": {"datum": {"year": 2018, "month": 1, "date": 3, "hours": 9, "minutes": 36, "utc": true}, "type": "temporal"}, "y": {"datum": -0.574, "type": "quantitative"}, "text": {"value": "Created with"}}
        },
        {
          "data": {"values": [{}]},
          "mark": {"type": "point", "shape": "triangle-up", "size": 40, "filled": true, "color": "#4aa3e8", "opacity": 1},
          "encoding": {"x": {"datum": {"year": 2018, "month": 1, "date": 9, "hours": 3, "utc": true}, "type": "temporal"}, "y": {"datum": -0.574, "type": "quantitative"}}
        },
        {
          "data": {"values": [{}]},
          "mark": {"type": "text", "fontSize": 7.5, "align": "left", "baseline": "middle", "color": "#4aa3e8"},
          "encoding": {"x": {"datum": {"year": 2018, "month": 1, "date": 10, "hours": 10, "minutes": 34, "utc": true}, "type": "temporal"}, "y": {"datum": -0.574, "type": "quantitative"}, "text": {"value": "TradingView"}}
        }
      ]
    }
  ],
  "config": {
    "font": "Liberation Sans",
    "view": {"stroke": "#bdbdbd", "strokeWidth": 1},
    "axis": {"labelFontSize": 5.8, "labelColor": "#4a4a4a", "gridColor": "#eceff3", "gridWidth": 1, "tickColor": "#9a9a9a", "domainColor": "#9a9a9a", "tickSize": 3, "labelPadding": 2, "labelFont": "Liberation Sans"}
  }
}
